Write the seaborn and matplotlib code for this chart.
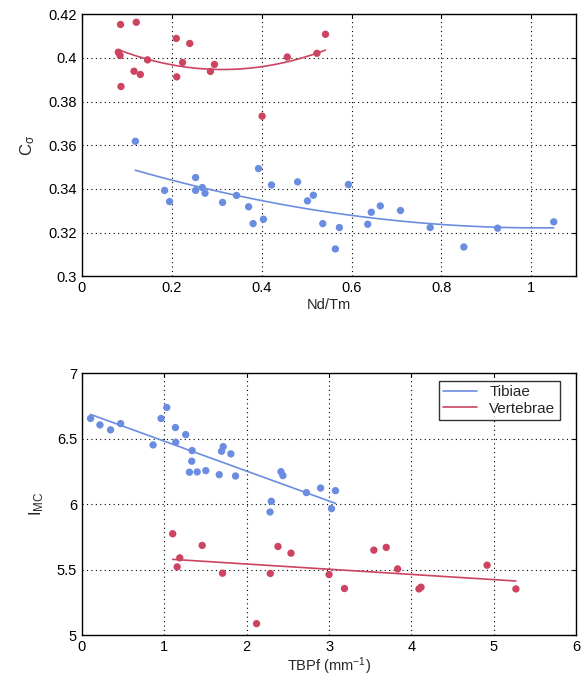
import numpy as np
import pandas as pd
import matplotlib
matplotlib.use("Agg")
import matplotlib.pyplot as plt
import seaborn as sns

# top panel: C_sigma vs Nd/Tm
tib_nd = [0.119, 0.184, 0.195, 0.253, 0.253, 0.268, 0.274, 0.313, 0.344, 0.371,
          0.381, 0.393, 0.404, 0.422, 0.480, 0.502, 0.515, 0.536, 0.564, 0.573,
          0.593, 0.636, 0.644, 0.664, 0.709, 0.775, 0.850, 0.925, 1.050]
tib_cs = [0.3618, 0.3393, 0.3342, 0.3452, 0.3393, 0.3406, 0.3380, 0.3338, 0.3370, 0.3318,
          0.3241, 0.3493, 0.3261, 0.3418, 0.3432, 0.3345, 0.3371, 0.3241, 0.3125, 0.3223,
          0.3420, 0.3238, 0.3293, 0.3322, 0.3301, 0.3223, 0.3134, 0.3220, 0.3249]
ver_nd = [0.081, 0.085, 0.086, 0.087, 0.116, 0.121, 0.130, 0.146, 0.210, 0.211,
          0.224, 0.240, 0.286, 0.295, 0.401, 0.457, 0.523, 0.542]
ver_cs = [0.4026, 0.4011, 0.4153, 0.3869, 0.3939, 0.4163, 0.3924, 0.3991, 0.4089, 0.3913,
          0.3979, 0.4066, 0.3938, 0.3970, 0.3733, 0.4004, 0.4021, 0.4108]

# bottom panel: I_MC vs TBPf
tib_tb = [0.105, 0.219, 0.348, 0.470, 0.864, 0.961, 1.030, 1.135, 1.139, 1.260,
          1.338, 1.333, 1.305, 1.399, 1.504, 1.667, 1.695, 1.715, 1.808, 1.865,
          2.299, 2.283, 2.416, 2.440, 2.725, 2.897, 3.078, 3.030]
tib_imc = [6.653, 6.604, 6.566, 6.614, 6.451, 6.653, 6.737, 6.584, 6.472, 6.530,
           6.408, 6.327, 6.243, 6.245, 6.255, 6.224, 6.403, 6.438, 6.383, 6.214,
           6.021, 5.939, 6.247, 6.217, 6.087, 6.122, 6.102, 5.965]
ver_tb = [1.102, 1.156, 1.188, 1.460, 1.707, 2.120, 2.287, 2.380, 2.538, 3.000,
          3.187, 3.544, 3.694, 3.832, 4.091, 4.116, 4.918, 5.268]
ver_imc = [5.773, 5.520, 5.589, 5.684, 5.472, 5.087, 5.470, 5.676, 5.625, 5.462,
           5.355, 5.648, 5.669, 5.505, 5.352, 5.365, 5.533, 5.352]

BLUE = "#6b8de0"
RED = "#cc4460"

sns.set_theme(style="white")
plt.rcParams["font.family"] = ["Liberation Sans", "DejaVu Sans"]
plt.rcParams["mathtext.fontset"] = "custom"
plt.rcParams["mathtext.rm"] = "Liberation Sans"
plt.rcParams["mathtext.it"] = "Liberation Sans"


def fit_line(x, y, deg):
    c = np.polyfit(x, y, deg)
    xs = np.linspace(min(x), max(x), 100)
    return xs, np.polyval(c, xs)


def style_axes(ax):
    ax.grid(True, linestyle=(0, (1, 3)), color="black", linewidth=0.8)
    ax.set_axisbelow(True)
    for s in ax.spines.values():
        s.set_color("black")
        s.set_linewidth(1.0)
    ax.tick_params(direction="in", top=True, right=True, length=3,
                   labelsize=10.5, colors="black", width=0.8)


fig = plt.figure(figsize=(5.85, 6.77), dpi=100)
ax1 = fig.add_axes([0.140, 0.592, 0.845, 0.387])
ax2 = fig.add_axes([0.140, 0.062, 0.845, 0.387])

# top
sns.scatterplot(x=tib_nd, y=tib_cs, color=BLUE, s=28, edgecolor="none", ax=ax1)
sns.scatterplot(x=ver_nd, y=ver_cs, color=RED, s=28, edgecolor="none", ax=ax1)
xs, ys = fit_line(tib_nd, tib_cs, 2)
sns.lineplot(x=xs, y=ys, color=BLUE, lw=1.2, ax=ax1)
xs, ys = fit_line(ver_nd, ver_cs, 2)
sns.lineplot(x=xs, y=ys, color=RED, lw=1.2, ax=ax1)
ax1.set_xlim(0, 1.1)
ax1.set_ylim(0.3, 0.42)
ax1.set_xticks([0, 0.2, 0.4, 0.6, 0.8, 1])
ax1.set_xticklabels(["0", "0.2", "0.4", "0.6", "0.8", "1"])
ax1.set_yticks([0.3, 0.32, 0.34, 0.36, 0.38, 0.4, 0.42])
ax1.set_yticklabels(["0.3", "0.32", "0.34", "0.36", "0.38", "0.4", "0.42"])
ax1.set_xlabel("Nd/Tm", fontsize=10.5, labelpad=2)
ax1.set_ylabel(r"C$_\sigma$", fontsize=12, labelpad=8)
style_axes(ax1)

# bottom
sns.scatterplot(x=tib_tb, y=tib_imc, color=BLUE, s=28, edgecolor="none", ax=ax2)
sns.scatterplot(x=ver_tb, y=ver_imc, color=RED, s=28, edgecolor="none", ax=ax2)
xs, ys = fit_line(tib_tb, tib_imc, 1)
sns.lineplot(x=xs, y=ys, color=BLUE, lw=1.2, ax=ax2, label="Tibiae")
xs, ys = fit_line(ver_tb, ver_imc, 1)
sns.lineplot(x=xs, y=ys, color=RED, lw=1.2, ax=ax2, label="Vertebrae")
ax2.set_xlim(0, 6)
ax2.set_ylim(5, 7)
ax2.set_xticks(range(0, 7))
ax2.set_yticks([5, 5.5, 6, 6.5, 7])
ax2.set_yticklabels(["5", "5.5", "6", "6.5", "7"])
ax2.set_xlabel(r"TBPf (mm$^{-1}$)", fontsize=10.5, labelpad=1)
ax2.set_ylabel(r"I$_\mathrm{MC}$", fontsize=12, labelpad=8)
style_axes(ax2)
leg = ax2.legend(loc="upper right", bbox_to_anchor=(0.967, 0.97), fontsize=11,
                 frameon=True, fancybox=False, borderaxespad=0.0,
                 handlelength=2.2, borderpad=0.3, labelspacing=0.15)
leg.get_frame().set_edgecolor("black")
leg.get_frame().set_linewidth(1.0)

fig.savefig("out.png", dpi=100)
